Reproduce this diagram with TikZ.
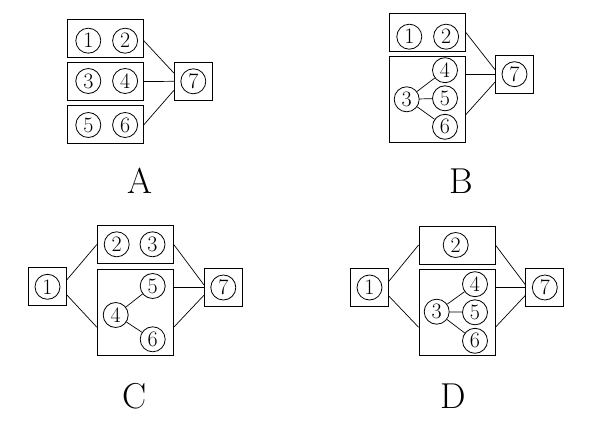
\documentclass[tikz,border=0pt]{standalone}
\usepackage{fontspec}
\usetikzlibrary{positioning}

\begin{document}
\begin{tikzpicture}[x=1pt, y=-1pt,
    bloc/.style={rectangle, draw=black, line width=0.9pt, inner sep=0pt,
      minimum width=76pt, minimum height=38pt},
    carre/.style={bloc, minimum width=38pt},
    grand/.style={bloc, minimum height=86.5pt},
    num/.style={circle, draw=black, line width=0.8pt, inner sep=0pt,
      minimum size=25pt, font=\fontsize{22}{24}\selectfont},
    lettre/.style={font=\fontsize{36}{40}\selectfont},
    line/.style={-, line width=0.7pt}
    ]
    \useasboundingbox (0,0) rectangle (597,422);

    % Schéma A
    \node[bloc] (A12) at (105.3,38.3) {};
    \node[bloc, below=4.4pt of A12] (A34) {};
    \node[bloc, below=4.4pt of A34] (A56) {};
    \node[carre] (A7) at (193.3,81.3) {};

    \node[num] (a1) at (88.3,40.7) {1};
    \node[num, right=11pt of a1] (a2) {2};
    \node[num] (a3) at (88.3,81) {3};
    \node[num, right=11pt of a3] (a4) {4};
    \node[num] (a5) at (88.3,125) {5};
    \node[num, right=11pt of a5] (a6) {6};
    \node[num] (a7) at (A7) {7};

    \draw[line] (a2 -| A12.east) -- (A7.157);
    \draw[line] (A34.east) -- (A7.west);
    \draw[line] (A56.east) -- (A7.205);

    \node[lettre] (LettreA) at (140.3,180.8) {A};

    % Schéma B
    \node[bloc] (B12) at (427,32) {};
    \node[grand, below=4.3pt of B12] (B3456) {};
    \node[carre] (B7) at (514.5,74.2) {};

    \node[num] (b1) at (409.3,36.7) {1};
    \node[num, right=11pt of b1] (b2) {2};
    \node[num] (b3) at (406.7,99.3) {3};
    \node[num] (b5) at (445,98.3) {5};
    \node[num, above=2.3pt of b5] (b4) {4};
    \node[num, below=2.7pt of b5] (b6) {6};
    \node[num] (b7) at (B7) {7};

    \draw[line] (b3) -- (b4);
    \draw[line] (b3) -- (b5);
    \draw[line] (b3) -- (b6);

    \draw[line] (B12.east) -- (B7.167);
    \draw[line] (B7.west -| B3456.east) -- (B7.west);
    \draw[line] (B3456.338) -- (B7.202);

    \node[lettre] (LettreB) at (460.8,181) {B};

    % Schéma C
    \node[carre] (C1) at (47.5,286.8) {};
    \node[bloc] (C23) at (135.3,244.5) {};
    \node[grand, below=4.8pt of C23] (C456) {};
    \node[carre] (C7) at (223.3,287.5) {};

    \node[num] (c1) at (C1) {1};
    \node[num] (c2) at (116.7,244.3) {2};
    \node[num, right=10pt of c2] (c3) {3};
    \node[num] (c4) at (115.7,315) {4};
    \node[num] (c5) at (152.7,286) {5};
    \node[num] (c6) at (152.7,339.3) {6};
    \node[num] (c7) at (C7) {7};

    \draw[line] (c4) -- (c5);
    \draw[line] (c4) -- (c6);

    \draw[line] (C1.20) -- (C23.west);
    \draw[line] (C1.337) -- (C456.201);
    \draw[line] (C23.east) -- (C7.172);
    \draw[line] (C7.west -| C456.east) -- (C7.west);
    \draw[line] (C456.339) -- (C7.202);

    \node[lettre] (LettreC) at (134.7,395.8) {C};

    % Schéma D
    \node[carre] (D1) at (369.5,287.5) {};
    \node[bloc] (D2) at (457,245) {};
    \node[grand, below=4.3pt of D2] (D3456) {};
    \node[carre] (D7) at (544.8,287.5) {};

    \node[num] (d1) at (D1) {1};
    \node[num] (d2) at (455.7,245) {2};
    \node[num] (d3) at (436.7,311.7) {3};
    \node[num] (d5) at (475,312.3) {5};
    \node[num, above=2.3pt of d5] (d4) {4};
    \node[num, below=2.7pt of d5] (d6) {6};
    \node[num] (d7) at (D7) {7};

    \draw[line] (d3) -- (d4);
    \draw[line] (d3) -- (d5);
    \draw[line] (d3) -- (d6);

    \draw[line] (D1.18) -- (D2.west);
    \draw[line] (D1.336) -- (D3456.201);
    \draw[line] (D2.east) -- (D7.172);
    \draw[line] (D7.west -| D3456.east) -- (D7.west);
    \draw[line] (D3456.339) -- (D7.202);

    \node[lettre] (LettreD) at (453.3,395.8) {D};

\end{tikzpicture}
\end{document}
